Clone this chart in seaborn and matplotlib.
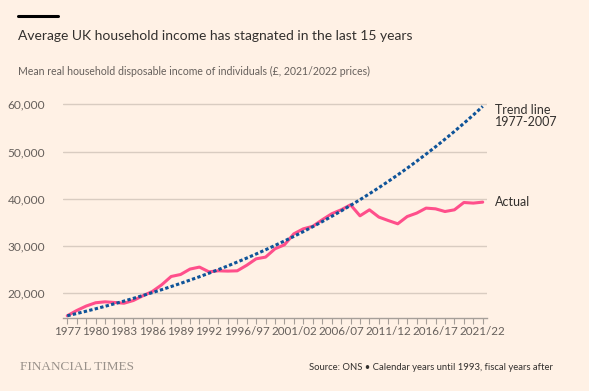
import matplotlib
matplotlib.use("Agg")
import matplotlib.pyplot as plt
import pandas as pd
import seaborn as sns

# calendar years until 1993, fiscal years after
YEARS = [str(y) for y in range(1977, 1994)] + [f"{y}/{str(y + 1)[2:]}" for y in range(1994, 2022)]

ACTUAL = [15250, 16360, 17300, 18000, 18200, 18060, 17900, 18480, 19470, 20380,
          21800, 23560, 23980, 25130, 25550, 24550, 24760, 24700, 24760, 25930,
          27300, 27660, 29420, 30270, 32600, 33650, 34180, 35560, 36830, 37670,
          38730, 36400, 37670, 36130, 35400, 34710, 36250, 36970, 38030, 37880,
          37310, 37670, 39220, 39090, 39300]

TREND = [15240, 15720, 16210, 16720, 17250, 17790, 18350, 18930, 19530, 20140,
         20770, 21430, 22100, 22800, 23510, 24250, 25020, 25800, 26620, 27450,
         28320, 29210, 30130, 31080, 32050, 33060, 34100, 35170, 36280, 37420,
         38600, 39810, 41070, 42360, 43690, 45070, 46480, 47950, 49460, 51010,
         52620, 54270, 55980, 57740, 59560]

LABELLED = ["1977", "1980", "1983", "1986", "1989", "1992", "1996/97",
            "2001/02", "2006/07", "2011/12", "2016/17", "2021/22"]
Y_TICKS = [20000, 30000, 40000, 50000, 60000]

BG = "#fff1e5"
PINK = "#ff4f8b"
BLUE = "#0f5499"
TEXT = "#33302e"
GREY = "#66605c"

sns.set_theme(style="white")
plt.rcParams["font.family"] = ["Lato", "DejaVu Sans"]

df = pd.DataFrame({"pos": range(len(YEARS)), "year": YEARS,
                   "Actual": ACTUAL, "Trend": TREND})

fig = plt.figure(figsize=(5.89, 3.91), dpi=100, facecolor=BG)
ax = fig.add_axes([0.1078, 0.1875, 0.7182, 0.5578])
ax.set_facecolor(BG)

sns.lineplot(data=df, x="pos", y="Actual", ax=ax, color=PINK, linewidth=2.2,
             solid_joinstyle="round", solid_capstyle="round")
sns.lineplot(data=df, x="pos", y="Trend", ax=ax, color=BLUE, linewidth=2.2,
             linestyle=(0, (1.1, 0.75)), dash_capstyle="butt")

ax.set_xlim(-0.4, len(YEARS) - 0.6)
ax.set_ylim(14840, 61000)
ax.set_yticks(Y_TICKS)
ax.set_yticklabels([f"{v:,}" for v in Y_TICKS])
ax.set_xticks(df["pos"])
ax.set_xticklabels([y if y in LABELLED else "" for y in YEARS])
ax.set_xlabel("")
ax.set_ylabel("")

ax.grid(axis="y", color="#d9ccc1", linewidth=1)
ax.set_axisbelow(True)
for s in ["top", "right", "left"]:
    ax.spines[s].set_visible(False)
ax.spines["bottom"].set_color("#a69f99")
ax.spines["bottom"].set_linewidth(1)
ax.tick_params(axis="x", bottom=True, length=4, width=0.8, color="#a69f99",
               labelsize=8.4, labelcolor=GREY, pad=2)
ax.tick_params(axis="y", left=False, labelsize=8.6, labelcolor=GREY, pad=7)

# line labels at the right end
ax.text(len(YEARS) + 0.3, TREND[-1] + 500, "Trend line\n1977-2007", fontsize=9,
        color=TEXT, va="top", ha="left", linespacing=0.95)
ax.text(len(YEARS) + 0.3, ACTUAL[-1], "Actual", fontsize=9,
        color=TEXT, va="center", ha="left")

# header and footer
fig.add_artist(plt.Line2D([18 / 589, 58 / 589], [1 - 15.5 / 391] * 2,
                          color="#000000", linewidth=2.2))
fig.text(18 / 589, 1 - 36 / 391, "Average UK household income has stagnated in the last 15 years",
         fontsize=10, color=TEXT, va="center", ha="left")
fig.text(18 / 589, 1 - 71 / 391, "Mean real household disposable income of individuals (£, 2021/2022 prices)",
         fontsize=7.6, color=GREY, va="center", ha="left")
fig.text(20 / 589, 1 - 367 / 391, "FINANCIAL TIMES", fontsize=9.5, color="#99918a",
         family=["Liberation Serif", "DejaVu Serif"], va="center", ha="left")
fig.text(553 / 589, 1 - 367 / 391, "Source: ONS \u2022 Calendar years until 1993, fiscal years after",
         fontsize=6.8, color=TEXT, va="center", ha="right")

fig.savefig("out.png", dpi=100, facecolor=BG)
